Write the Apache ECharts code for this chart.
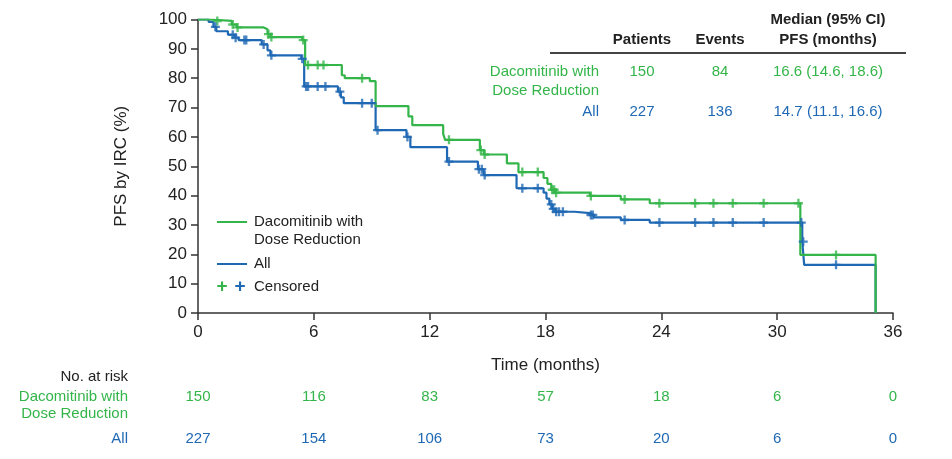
<!DOCTYPE html>
<html><head><meta charset="utf-8">
<script src="https://cdn.jsdelivr.net/npm/echarts@6/dist/echarts.min.js"></script>
<style>html,body{margin:0;padding:0;background:#fff}#c{width:952px;height:459px}</style>
</head><body><div id="c"></div>
<script>
const GREEN = '#34b54a', BLUE = '#1f68b4';
const FONT = '"Liberation Sans", Arial, sans-serif';

const xTicks = [0, 6, 12, 18, 24, 30, 36];
const yTicks = [0, 10, 20, 30, 40, 50, 60, 70, 80, 90, 100];

// Kaplan-Meier steps: [time (months), PFS %] after each drop
const dacoCurve = [[0,100],[0.6,99.5],[1.75,98.3],[2.0,97.3],[3.4,96.7],[3.6,95],[3.75,94],[5.4,93],[5.55,84.5],
  [7.45,81],[7.6,80],[8.9,79],[9.2,70.5],[10.9,67],[11.1,64],[12.7,61],[12.8,59],[14.6,55.5],[14.8,54],
  [16.0,51],[16.6,48],[17.9,46],[18.1,44],[18.3,42],[18.5,41],[20.3,39.9],[21.9,38.7],[23.4,37.4],
  [31.2,19.8],[35.1,0]];
const allCurve = [[0,100],[0.55,99.2],[0.8,97.5],[0.95,96],[1.55,94.8],[1.9,93.8],[2.1,93],[3.3,91.5],[3.6,89.5],
  [3.75,87.8],[5.35,86.6],[5.5,77.2],[7.25,75.4],[7.4,73.5],[7.55,71.5],[9.2,62.3],[10.8,60],[11.0,56.5],
  [12.9,51.6],[14.5,49],[14.8,47],[16.5,42.5],[17.9,41],[18.05,39],[18.2,37],[18.35,35.5],[18.5,34.5],
  [19.5,34],[20.3,33.4],[20.5,32.6],[21.9,31.7],[23.4,30.8],[31.3,24.3],[31.4,16.4],[35.1,0]];

// censoring times (months)
const dacoCensor = [1.0,1.8,2.05,3.65,3.8,5.45,5.7,6.2,6.5,8.5,13.0,14.65,14.85,16.8,17.6,18.35,18.45,18.55,
  20.35,22.1,23.9,25.75,26.7,27.7,29.3,31.1,33.05];
const allCensor = [0.9,1.8,1.95,2.4,2.5,3.4,3.8,5.4,5.6,5.7,6.2,6.6,7.35,8.5,9.0,9.3,10.85,13.0,14.55,14.7,14.85,
  16.8,17.6,18.3,18.4,18.55,18.7,18.9,20.35,20.45,22.1,23.9,25.75,26.7,27.7,29.3,31.25,31.35,33.05];

const riskTimes = [0, 6, 12, 18, 24, 30, 36];
const riskDaco = [150, 116, 83, 57, 18, 6, 0];
const riskAll = [227, 154, 106, 73, 20, 6, 0];

const tableHeader = ['Patients', 'Events', 'Median (95% CI)\nPFS (months)'];
const tableDaco = ['150', '84', '16.6 (14.6, 18.6)'];
const tableAll = ['227', '136', '14.7 (11.1, 16.6)'];

function survAt(curve, t) {
  let v = curve[0][1];
  for (const p of curve) { if (p[0] <= t) v = p[1]; else break; }
  return v;
}
const plusPath = 'path://M3.7,0H6.3V3.7H10V6.3H6.3V10H3.7V6.3H0V3.7H3.7Z';

const chart = echarts.init(document.getElementById('c'), null, {renderer: 'canvas'});
const axisCommon = {
  axisLine: {show: true, lineStyle: {color: '#333', width: 1.5}},
  axisTick: {show: true, length: 7, lineStyle: {color: '#333', width: 1.5}},
  splitLine: {show: false},
  axisLabel: {color: '#222', fontSize: 17, fontFamily: FONT}
};
chart.setOption({
  animation: false,
  backgroundColor: '#fff',
  grid: {left: 198, right: 59, top: 19.5, bottom: 146, containLabel: false},
  xAxis: Object.assign({}, axisCommon, {
    type: 'value', min: 0, max: 36, interval: 6,
    axisLabel: Object.assign({}, axisCommon.axisLabel, {margin: 11}),
    name: 'Time (months)', nameLocation: 'middle', nameGap: 44,
    nameTextStyle: {color: '#222', fontSize: 17, fontFamily: FONT}
  }),
  yAxis: Object.assign({}, axisCommon, {
    type: 'value', min: 0, max: 100, interval: 10,
    axisLabel: Object.assign({}, axisCommon.axisLabel, {margin: 11}),
    name: 'PFS by IRC (%)', nameLocation: 'middle', nameGap: 68,
    nameTextStyle: {color: '#222', fontSize: 17, fontFamily: FONT}
  }),
  series: [
    {type: 'line', step: 'end', data: allCurve, showSymbol: false, lineStyle: {color: BLUE, width: 2.2}, z: 2},
    {type: 'line', step: 'end', data: dacoCurve, showSymbol: false, lineStyle: {color: GREEN, width: 2.2}, z: 3},
    {type: 'scatter', data: dacoCensor.map(t => [t, survAt(dacoCurve, t)]), symbol: plusPath, symbolSize: 9,
      itemStyle: {color: GREEN}, z: 4},
    {type: 'scatter', data: allCensor.map(t => [t, survAt(allCurve, t)]), symbol: plusPath, symbolSize: 9,
      itemStyle: {color: BLUE}, z: 5}
  ]
});

function txt(x, y, s, color, opts) {
  return Object.assign({type: 'text', x: x, y: y, silent: true,
    style: Object.assign({text: s, fill: color, font: '15px ' + FONT, align: 'center', verticalAlign: 'middle'}, opts || {})});
}
const BOLD = 'bold 15px ' + FONT;
const g = [];
// risk table
g.push(txt(128, 377, 'No. at risk', '#222', {align: 'right'}));
g.push(txt(128, 397, 'Dacomitinib with', GREEN, {align: 'right'}));
g.push(txt(128, 414, 'Dose Reduction', GREEN, {align: 'right'}));
g.push(txt(128, 439, 'All', BLUE, {align: 'right'}));
riskTimes.forEach((t, i) => {
  const x = chart.convertToPixel({xAxisIndex: 0}, t);
  g.push(txt(x, 397, String(riskDaco[i]), GREEN));
  g.push(txt(x, 439, String(riskAll[i]), BLUE));
});
// summary table
const colX = [642, 720, 828];
g.push(txt(colX[0], 40, tableHeader[0], '#222', {font: BOLD}));
g.push(txt(colX[1], 40, tableHeader[1], '#222', {font: BOLD}));
g.push(txt(colX[2], 30, tableHeader[2], '#222', {font: BOLD, lineHeight: 20}));
g.push({type: 'line', silent: true, shape: {x1: 550, y1: 53, x2: 906, y2: 53}, style: {stroke: '#444', lineWidth: 2}});
g.push(txt(599, 72, 'Dacomitinib with', GREEN, {align: 'right'}));
g.push(txt(599, 91, 'Dose Reduction', GREEN, {align: 'right'}));
g.push(txt(599, 112, 'All', BLUE, {align: 'right'}));
tableDaco.forEach((s, i) => g.push(txt(colX[i], 72, s, GREEN)));
tableAll.forEach((s, i) => g.push(txt(colX[i], 112, s, BLUE)));
// legend
g.push({type: 'line', silent: true, shape: {x1: 217, y1: 222, x2: 247, y2: 222}, style: {stroke: GREEN, lineWidth: 2}});
g.push(txt(254, 222, 'Dacomitinib with', '#222', {align: 'left'}));
g.push(txt(254, 240, 'Dose Reduction', '#222', {align: 'left'}));
g.push({type: 'line', silent: true, shape: {x1: 217, y1: 264, x2: 247, y2: 264}, style: {stroke: BLUE, lineWidth: 2}});
g.push(txt(254, 264, 'All', '#222', {align: 'left'}));
g.push(txt(222, 287, '+', GREEN, {font: 'bold 19px ' + FONT}));
g.push(txt(240, 287, '+', BLUE, {font: 'bold 19px ' + FONT}));
g.push(txt(254, 287, 'Censored', '#222', {align: 'left'}));
chart.setOption({graphic: {elements: g}});
</script></body></html>
